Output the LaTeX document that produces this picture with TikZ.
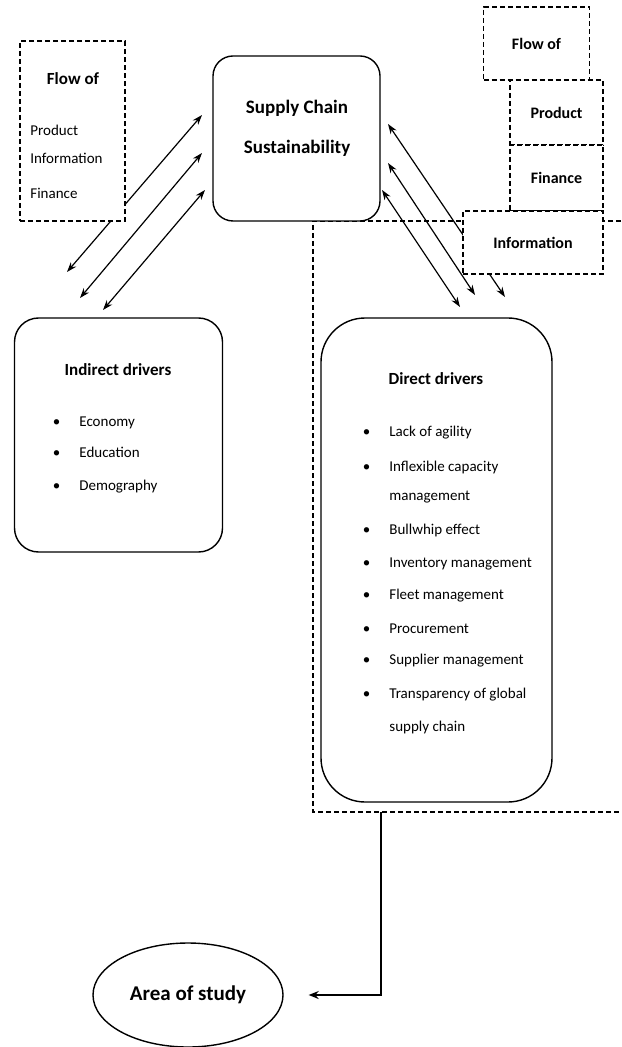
\documentclass[tikz,border=0pt]{standalone}
\usepackage{fontspec}
\setmainfont{Carlito}
\usepackage{tikz}
\usetikzlibrary{arrows.meta,positioning,shapes.geometric}

\newcommand{\drvbullet}{\llap{\textbullet\hspace{9.5pt}}}

\begin{document}
\begin{tikzpicture}[x=0.5pt, y=-0.5pt,
        rbox/.style={draw, line width=0.7pt, rectangle, rounded corners=#1, fill=white},
        rbox/.default=10pt,
        dbox/.style={draw, line width=0.7pt, dash pattern=on 2.5pt off 1.5pt, fill=white, inner sep=0pt},
        bigtitle/.style={font=\fontsize{9.5}{11}\selectfont\bfseries},
        hd/.style={font=\fontsize{8.5}{10}\selectfont\bfseries},
        rlbl/.style={font=\fontsize{8}{10}\selectfont\bfseries},
        item/.style={anchor=west, inner sep=0pt, font=\fontsize{7.5}{9}\selectfont},
        arrow/.style={{Stealth[length=5pt,width=3.5pt]}-{Stealth[length=5pt,width=3.5pt]}, line width=0.6pt}
    ]
        \useasboundingbox (0,0) rectangle (621,1047);

        % Pontas das setas de fluxo
        \coordinate (la1) at (202,115);  \coordinate (lb1) at (67,272);
        \coordinate (la2) at (202,153);  \coordinate (lb2) at (80,298);
        \coordinate (la3) at (205,190);  \coordinate (lb3) at (103,310);
        \coordinate (ra1) at (388,124);  \coordinate (rb1) at (505,297);
        \coordinate (ra2) at (388,163);  \coordinate (rb2) at (475,295);
        \coordinate (ra3) at (382,190);  \coordinate (rb3) at (460,307);

        % Area tracejada dos direct drivers
        \coordinate (reg-tl) at (313,221);
        \coordinate (reg-tr) at (621,221);
        \coordinate (reg-bl) at (313,812);
        \coordinate (reg-br) at (621,812);
        \draw[line width=0.7pt, dash pattern=on 2.5pt off 1.5pt] (reg-tr) -- (reg-tl) -- (reg-bl) -- (reg-br);

        % Setas de fluxo
        \draw[arrow] (la1) -- (lb1);
        \draw[arrow] (la2) -- (lb2);
        \draw[arrow] (la3) -- (lb3);
        \draw[arrow] (ra1) -- (rb1);
        \draw[arrow] (ra2) -- (rb2);
        \draw[arrow] (ra3) -- (rb3);

        % Supply chain sustainability
        \node[rbox=10pt, minimum width=83.5pt, minimum height=82.5pt] (scs) at (296.5,138.5) {};
        \node[bigtitle] (scs1) at (297,108) {Supply Chain};
        \node[bigtitle] (scs2) at (297,148) {Sustainability};

        % Flow of (esquerda)
        \node[dbox, minimum width=52.5pt, minimum height=90pt] (lflow) at (72.5,131) {};
        \node[hd] (lflowt) at (73,79) {Flow of};
        \node[item] (lprod) at (30,130) {Product};
        \node[item] (linfo) at (30,158) {Information};
        \node[item] (lfin) at (30,193) {Finance};

        % Flow of (direita)
        \node[dbox, rlbl, minimum width=53pt, minimum height=36.5pt] (rflow) at (536.5,43.5) {Flow of};
        \node[dbox, rlbl, minimum width=46.5pt, minimum height=32.5pt] (rprod) at (556.5,112.5) {Product};
        \node[dbox, rlbl, minimum width=46.5pt, minimum height=33pt] (rfin) at (556.5,178) {Finance};
        \node[dbox, rlbl, minimum width=70pt, minimum height=31.5pt] (rinfo) at (533,242.5) {Information};

        % Indirect drivers
        \node[rbox=12pt, minimum width=104pt, minimum height=117pt] (ind) at (118.5,435) {};
        \node[hd] (indt) at (118,370) {Indirect drivers};
        \foreach \y/\t in {423/Economy, 452/Education, 487/Demography}
            \node[item] (ind\y) at (79,\y) {\drvbullet\t};

        % Direct drivers
        \node[rbox=22pt, minimum width=115.5pt, minimum height=242pt] (dir) at (436.5,560) {};
        \node[hd] (dirt) at (436,379) {Direct drivers};
        \foreach \y/\t in {433/Lack of agility, 467/Inflexible capacity, 530/Bullwhip effect,
                           564/Inventory management, 596/Fleet management, 629/Procurement,
                           661/Supplier management, 695/Transparency of global}
            \node[item] (dir\y) at (389,\y) {\drvbullet\t};
        \node[item] (dir497) at (389,497) {management};
        \node[item] (dir727) at (389,727) {supply chain};

        % Area of study
        \node[draw, line width=0.7pt, ellipse, minimum width=95pt, minimum height=52pt, inner sep=0pt,
              font=\fontsize{10.5}{12}\selectfont\bfseries] (area) at (188,995) {Area of study};
        \coordinate (regout) at (381,812);
        \draw[-{Stealth[length=5pt,width=4pt]}, line width=0.6pt] (regout) |- ([xshift=12.5pt]area.east);
    \end{tikzpicture}
\end{document}
